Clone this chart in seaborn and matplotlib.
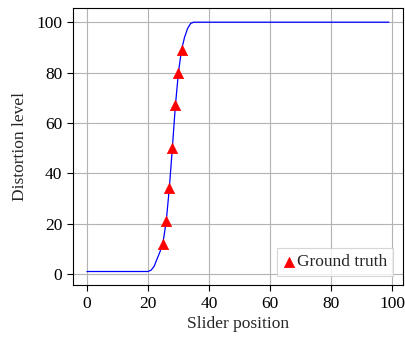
import matplotlib
matplotlib.use("Agg")
import matplotlib.pyplot as plt
import seaborn as sns
import pandas as pd

# curve (key points)
curve_x = [0, 20, 21, 22, 23, 24, 25, 26, 27, 28, 29, 30, 31, 32, 33, 34, 35, 99]
curve_y = [1, 1, 1.5, 3, 6, 9, 13, 21, 34, 50, 67, 80, 89, 94, 97.5, 99.5, 100, 100]
gt_x = [25, 26, 27, 28, 29, 30, 31]
gt_y = [12, 21, 34, 50, 67, 80, 89]
xticks = [0, 20, 40, 60, 80, 100]
yticks = [0, 20, 40, 60, 80, 100]

sns.set_theme(style="white")
plt.rcParams['font.family'] = ['Liberation Serif', 'DejaVu Serif']
plt.rcParams['mathtext.fontset'] = 'stix'

fig = plt.figure(figsize=(4.05, 3.37), dpi=100)
ax = fig.add_axes([0.180, 0.154, 0.815, 0.822])

curve = pd.DataFrame({"x": curve_x, "y": curve_y})
gt = pd.DataFrame({"x": gt_x, "y": gt_y})
sns.lineplot(data=curve, x="x", y="y", ax=ax, color="blue", linewidth=0.9, label="_nolegend_")
sns.scatterplot(data=gt, x="x", y="y", ax=ax, color="red", marker="^", s=55,
                edgecolor="red", linewidth=0.5, label="Ground truth", zorder=5)

ax.set_xlim(-4.6, 103.6)
ax.set_ylim(-4.4, 105.6)
ax.set_xticks(xticks)
ax.set_yticks(yticks)
ax.grid(True, color="#b3b3b3", linewidth=0.8)
ax.set_axisbelow(True)
for s in ax.spines.values():
    s.set_color("black")
    s.set_linewidth(0.8)
ax.tick_params(axis="both", direction="out", length=4.5, width=0.8, colors="black",
               labelsize=12.5, left=True, bottom=True, pad=3)
ax.set_xlabel("Slider position", fontsize=12.5, labelpad=3)
ax.set_ylabel("Distortion level", fontsize=12.5, labelpad=6)

leg = ax.legend(loc="lower right", fontsize=12.5, frameon=True, fancybox=False,
                handletextpad=0.1, handlelength=0.7, borderpad=0.35,
                borderaxespad=0.0, bbox_to_anchor=(0.970, 0.032), markerscale=1.0)
leg.get_frame().set_edgecolor("#cccccc")
leg.get_frame().set_linewidth(0.8)

fig.savefig("out.png", dpi=100)
